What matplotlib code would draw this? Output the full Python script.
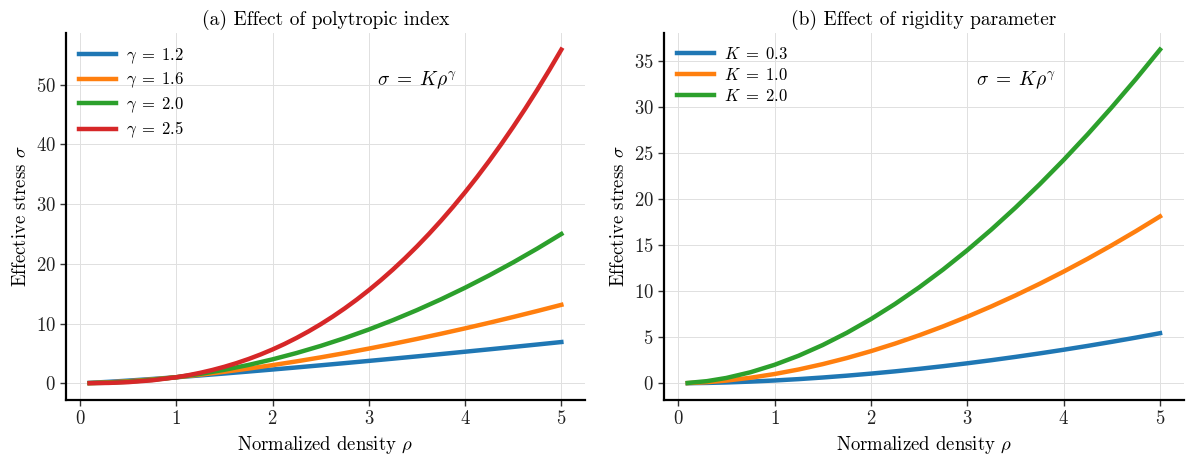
import matplotlib
matplotlib.use("Agg")
import matplotlib.pyplot as plt

plt.rcParams['font.family'] = 'serif'
plt.rcParams['font.serif'] = ['cmr10']
plt.rcParams['mathtext.fontset'] = 'cm'
plt.rcParams['axes.formatter.use_mathtext'] = True

# Normalized density samples
rho = [0.1, 0.3, 0.5, 0.75, 1.0, 1.25, 1.5, 1.75, 2.0, 2.25, 2.5, 2.75,
       3.0, 3.25, 3.5, 3.75, 4.0, 4.25, 4.5, 4.75, 5.0]
# finer sampling used for the steepest curve
rho_fine = [0.1, 0.3, 0.5, 0.75, 1.0, 1.125, 1.25, 1.375, 1.5, 1.625, 1.75, 1.875,
            2.0, 2.125, 2.25, 2.375, 2.5, 2.625, 2.75, 2.875, 3.0, 3.125, 3.25, 3.375,
            3.5, 3.625, 3.75, 3.875, 4.0, 4.125, 4.25, 4.375, 4.5, 4.625, 4.75, 4.875, 5.0]

# Panel (a): K = 1, varying polytropic index
gamma_labels = [r'$\gamma\;=\;1.2$', r'$\gamma\;=\;1.6$', r'$\gamma\;=\;2.0$', r'$\gamma\;=\;2.5$']
sigma_g12 = [0.063, 0.236, 0.435, 0.708, 1.0, 1.307, 1.627, 1.958, 2.297, 2.645, 3.003,
             3.366, 3.737, 4.113, 4.496, 4.884, 5.278, 5.676, 6.079, 6.486, 6.899]
sigma_g16 = [0.025, 0.146, 0.330, 0.631, 1.0, 1.429, 1.913, 2.448, 3.031, 3.660, 4.332,
             5.046, 5.800, 6.592, 7.422, 8.289, 9.190, 10.125, 11.096, 12.098, 13.133]
sigma_g20 = [0.010, 0.090, 0.250, 0.5625, 1.0, 1.5625, 2.25, 3.0625, 4.0, 5.0625, 6.25,
             7.5625, 9.0, 10.5625, 12.25, 14.0625, 16.0, 18.0625, 20.25, 22.5625, 25.0]
sigma_g25 = [0.003, 0.049, 0.177, 0.487, 1.0, 1.342, 1.747, 2.217, 2.756, 3.366, 4.051, 4.814,
             5.657, 6.583, 7.594, 8.693, 9.882, 11.164, 12.541, 14.015, 15.588, 17.264,
             19.042, 20.926, 22.918, 25.019, 27.232, 29.558, 32.0, 34.559, 37.237, 40.036,
             42.957, 46.003, 49.173, 52.473, 55.902]

# Panel (b): gamma = 1.8, varying rigidity K
k_labels = [r'$K\;=\;0.3$', r'$K\;=\;1.0$', r'$K\;=\;2.0$']
sigma_k03 = [0.005, 0.034, 0.086, 0.179, 0.3, 0.448, 0.623, 0.821, 1.045, 1.291, 1.561,
             1.853, 2.167, 2.503, 2.861, 3.239, 3.638, 4.057, 4.497, 4.956, 5.436]
sigma_k10 = [0.016, 0.115, 0.287, 0.596, 1.0, 1.494, 2.075, 2.738, 3.482, 4.304, 5.203,
             6.177, 7.225, 8.345, 9.536, 10.797, 12.126, 13.523, 14.989, 16.521, 18.119]
sigma_k20 = [0.032, 0.229, 0.574, 1.192, 2.0, 2.988, 4.150, 5.476, 6.964, 8.608, 10.407,
             12.354, 14.449, 16.689, 19.072, 21.594, 24.252, 27.046, 29.978, 33.042, 36.238]

colors = ['#1f77b4', '#ff7f0e', '#2ca02c', '#d62728']

fig = plt.figure(figsize=(11.86, 4.57), dpi=100)
ax1 = fig.add_axes([0.0557, 0.125, 0.4375, 0.803])
ax2 = fig.add_axes([0.560, 0.125, 0.438, 0.803])


def style(ax):
    ax.spines['top'].set_visible(False)
    ax.spines['right'].set_visible(False)
    for s in ('left', 'bottom'):
        ax.spines[s].set_linewidth(1.6)
        ax.spines[s].set_color('black')
    ax.grid(True, color='#e0e0e0', linewidth=0.7)
    ax.set_axisbelow(True)
    ax.tick_params(labelsize=13.5, length=4, width=1, colors='#333333', labelcolor='#222222')
    ax.set_xlabel(r'Normalized density $\rho$', fontsize=13.5)
    ax.set_ylabel(r'Effective stress $\sigma$', fontsize=13.5)
    ax.text(0.6, 0.9, r'$\sigma\;=\;K\rho^{\gamma}$', transform=ax.transAxes,
            fontsize=14, ha='left', va='top')
    ax.legend(loc='upper left', frameon=False, fontsize=12, handlelength=2.2,
              handletextpad=0.6, labelspacing=0.3, borderaxespad=0.4)


for r, series, lab, c in zip([rho, rho, rho, rho_fine],
                             [sigma_g12, sigma_g16, sigma_g20, sigma_g25], gamma_labels, colors):
    ax1.plot(r, series, color=c, linewidth=3.2, label=lab, solid_joinstyle='round')
ax1.set_title('(a) Effect of polytropic index', fontsize=14)
ax1.set_xticks([0, 1, 2, 3, 4, 5])
ax1.set_yticks([0, 10, 20, 30, 40, 50])
style(ax1)

for series, lab, c in zip([sigma_k03, sigma_k10, sigma_k20], k_labels, colors):
    ax2.plot(rho, series, color=c, linewidth=3.2, label=lab, solid_joinstyle='round')
ax2.set_title('(b) Effect of rigidity parameter', fontsize=14)
ax2.set_xticks([0, 1, 2, 3, 4, 5])
ax2.set_yticks([0, 5, 10, 15, 20, 25, 30, 35])
style(ax2)

fig.savefig('out.png', dpi=100)
